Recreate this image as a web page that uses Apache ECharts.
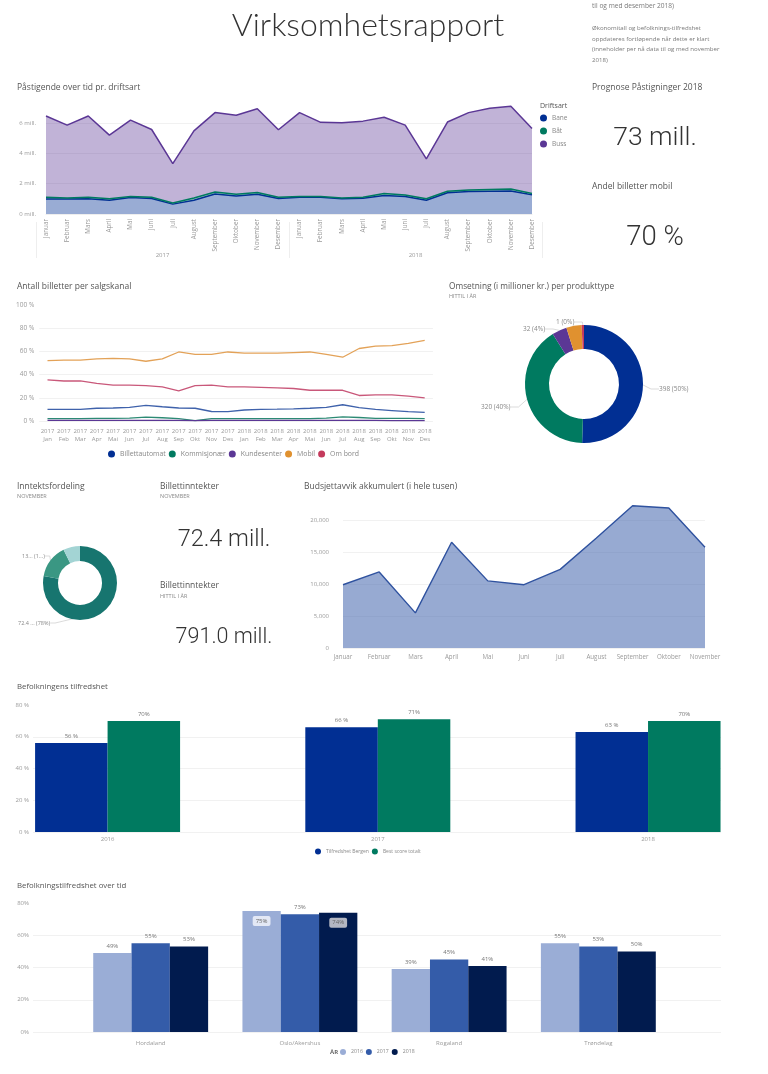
<!DOCTYPE html>
<html><head><meta charset="utf-8">
<style>html,body{margin:0;padding:0;background:#fff}#c{width:768px;height:1074px}</style>
<script src="https://cdn.jsdelivr.net/npm/echarts@6/dist/echarts.min.js"></script>
</head><body><div id="c"></div>
<script>
const monthsFull=['Januar','Februar','Mars','April','Mai','Juni','Juli','August','September','Oktober','November','Desember'];
const months24=[...monthsFull,...monthsFull];
const yearsRide=['2017','2018'];
const bane=[0.98,0.98,1.0,0.9,1.08,1.02,0.65,0.9,1.32,1.18,1.3,1.02,1.1,1.1,1.0,1.03,1.22,1.15,0.9,1.4,1.48,1.5,1.52,1.27];
const baat=[0.12,0.07,0.1,0.1,0.07,0.08,0.07,0.15,0.13,0.12,0.12,0.08,0.05,0.05,0.05,0.07,0.13,0.1,0.1,0.1,0.1,0.12,0.13,0.08];
const buss=[5.35,4.8,5.35,4.19,5.03,4.46,2.59,4.42,5.22,5.2,5.51,4.44,5.52,4.88,4.95,5.01,5.01,4.6,2.62,4.55,5.09,5.33,5.44,4.28];

const channelCats=['2017\nJan','2017\nFeb','2017\nMar','2017\nApr','2017\nMai','2017\nJun','2017\nJul','2017\nAug','2017\nSep','2017\nOkt','2017\nNov','2017\nDes','2018\nJan','2018\nFeb','2018\nMar','2018\nApr','2018\nMai','2018\nJun','2018\nJul','2018\nAug','2018\nSep','2018\nOkt','2018\nNov','2018\nDes'];
const billettautomat=[10,10,10,11,11.2,11.8,13.5,12.3,11.2,11,8.2,8,9.5,10,10.2,10.5,11,11.8,14,11.5,10,9,8,7.5];
const kommisjonaer=[2,2,2,2.2,2.2,2.5,3.3,2.8,2,0.3,2,2,2,2,2,2,2,2.5,3.5,3,2.3,2.2,2.2,2];
const kundesenter=[0.5,0.5,0.5,0.5,0.5,0.5,0.5,0.5,0.5,0.3,0.5,0.5,0.5,0.5,0.5,0.5,0.5,0.5,0.5,0.5,0.5,0.3,0.3,0.3];
const mobil=[52,52.5,52.5,53.5,54,53.5,51.5,53.5,59.5,57.5,57.5,59.5,58.5,58.5,58.5,59,59.5,57.5,55,62.5,64.5,65,67,69.5];
const omBord=[35.5,34.5,34.5,32.5,31,31,30.5,29.5,26,30.5,31,29.5,29.5,29,28.5,28,26.5,26.5,26.5,22,22.5,22.5,21.5,20];

const productValues=[398,320,32,33,5];
const productNames=['Produkt A','Produkt B','Produkt C','Produkt D','Produkt E'];
const productLabels=['398 (50%)','320 (40%)','32 (4%)','','1 (0%)'];

const incomeValues=[72.4,13.6,6.8];
const incomeLabels=['72.4 ... (78%)','13... (1...)',''];

const budgetMonths=monthsFull.slice(0,11);
const budgetValues=[9900,11900,5500,16550,10500,9900,12300,17200,22250,21900,15750];

const satisYears=[2016,2017,2018];
const satisBergen=[56,66,63];
const satisBest=[70,71,70];

const regions=['Hordaland','Oslo/Akershus','Rogaland','Trøndelag'];
const regionPos=[1,2,3,4];
const reg2016=[49,75,39,55];
const reg2017=[55,73,45,53];
const reg2018=[53,74,41,50];

const FONT='"Open Sans","Noto Sans",sans-serif';
const AX='#9a9a9a', GRID='#f1f1f1', HEAD='#555555', SUB='#8a8a8a';
const BLUE='#012f93', GREEN='#007a60', PURPLE='#5b3795', ORANGE='#e0912f', RED='#c43a5c';

function txt(text,x,y,size,fill,extra){
  return {type:'text',x:x,y:y,silent:true,style:Object.assign({text:text,fontSize:size,fontFamily:FONT,fill:fill,align:'left',verticalAlign:'middle'},extra||{})};
}
const KPI={align:'center',fontWeight:300,fontFamily:'Roboto,"Open Sans",sans-serif'};
const graphics=[
  txt('Virksomhetsrapport',368,26,32,'#333333',{align:'center',fontWeight:300,fontFamily:'Lato,Roboto,sans-serif'}),
  txt('til og med desember 2018)',592,6,6.6,'#7a7a7a'),
  txt('Økonomitall og befolknings-tilfredshet',592,28,6.1,'#7a7a7a'),
  txt('oppdateres fortløpende når dette er klart',592,39,6.1,'#7a7a7a'),
  txt('(inneholder per nå data til og med november',592,49,6.1,'#7a7a7a'),
  txt('2018)',592,60,6.1,'#7a7a7a'),
  txt('Påstigende over tid pr. driftsart',17,88,8.5,HEAD),
  txt('Driftsart',540,106,7,HEAD),
  txt('Prognose Påstigninger 2018',592,88,8.5,HEAD),
  txt('73 mill.',655,138,26.5,'#333333',KPI),
  txt('Andel billetter mobil',592,187,8.5,HEAD),
  txt('70 %',655,238,27.5,'#333333',KPI),
  txt('Antall billetter per salgskanal',17,287,8.5,HEAD),
  txt('Omsetning (i millioner kr.) per produkttype',449,287,8.3,HEAD),
  txt('HITTIL I ÅR',449,296,5.5,SUB),
  txt('Inntektsfordeling',17,487,8.5,HEAD),
  txt('NOVEMBER',17,496,5.5,SUB),
  txt('Billettinntekter',160,487,8.5,HEAD),
  txt('NOVEMBER',160,496,5.5,SUB),
  txt('72.4 mill.',224,540,23.5,'#333333',KPI),
  txt('Billettinntekter',160,586,8.5,HEAD),
  txt('HITTIL I ÅR',160,596,5.5,SUB),
  txt('791.0 mill.',224,638,21.5,'#333333',KPI),
  txt('Budsjettavvik akkumulert (i hele tusen)',304,487,8.5,HEAD),
  txt('Befolkningens tilfredshet',17,687,7.8,HEAD),
  txt('Befolkningstilfredshet over tid',17,886,7.8,HEAD),
  txt('ÅR',330,1052,6,'#666666',{fontWeight:'bold'})
];

const axisLbl=(o)=>Object.assign({color:AX,fontSize:6.5,fontFamily:FONT},o||{});
const split={show:true,lineStyle:{color:GRID,width:1},showMaxLine:false};
const legendBase={icon:'circle',itemWidth:7,itemHeight:7,padding:0,textStyle:{color:'#888',fontSize:7,fontFamily:FONT},selectedMode:false};

function areaS(name,data,color,fillOp){
  return {name,type:'line',stack:'ride',data,xAxisIndex:0,yAxisIndex:0,symbol:'none',smooth:false,
    lineStyle:{color,width:1.5},itemStyle:{color},areaStyle:{color,opacity:fillOp}};
}
function lineS(name,data,lineColor,dotColor){
  return {name,type:'line',data,xAxisIndex:2,yAxisIndex:2,symbol:'none',smooth:false,lineStyle:{color:lineColor,width:1.3},itemStyle:{color:dotColor}};
}
const pairs=(xs,ys)=>xs.map((x,i)=>[x,ys[i]]);
function satisS(name,vals,color,fmt){
  return {name,type:'bar',xAxisIndex:4,yAxisIndex:4,barWidth:72.5,barGap:0,data:pairs(satisYears,vals),itemStyle:{color},
    label:{show:true,position:'top',distance:4,fontSize:6,color:'#777',fontFamily:FONT,formatter:p=>p.value[1]+fmt}};
}
function regS(name,vals,color,insideBg){
  return {name,type:'bar',xAxisIndex:5,yAxisIndex:5,barWidth:38.3,barGap:0,itemStyle:{color},
    data:vals.map((v,i)=>{
      const d={value:[regionPos[i],v]};
      if(insideBg&&i===1){d.label={position:'insideTop',distance:5,backgroundColor:insideBg,color:'#666',padding:[2,3],borderRadius:2};}
      return d;
    }),
    label:{show:true,position:'top',distance:4,fontSize:6,color:'#777',fontFamily:FONT,formatter:p=>p.value[1]+'%'}};
}
function pieData(values,names,labels){
  return values.map((v,i)=>{
    const d={value:v,name:names[i]};
    if(!labels[i]){d.label={show:false};d.labelLine={show:false};}
    return d;
  });
}

const option={
  animation:false,backgroundColor:'#ffffff',textStyle:{fontFamily:FONT},
  graphic:graphics,
  legend:[
    Object.assign({},legendBase,{orient:'vertical',left:540,top:114.5,itemGap:6,data:['Bane','Båt','Buss'],textStyle:{color:'#888',fontSize:6.5,fontFamily:FONT}}),
    Object.assign({},legendBase,{left:108,top:450.5,itemGap:3,data:['Billettautomat','Kommisjonær','Kundesenter','Mobil','Om bord'],textStyle:{color:'#888',fontSize:6.9,fontFamily:FONT}}),
    Object.assign({},legendBase,{left:315,top:848.5,itemGap:3,itemWidth:6,itemHeight:6,data:['Tilfredshet Bergen','Best score totalt'],textStyle:{color:'#888',fontSize:5,fontFamily:FONT}}),
    Object.assign({},legendBase,{left:340,top:1049,itemGap:3,itemWidth:6,itemHeight:6,data:['2016','2017','2018'],textStyle:{color:'#888',fontSize:5.2,fontFamily:FONT}})
  ],
  grid:[
    {left:46,right:236,top:100,height:114},
    {left:36,right:226,top:222,height:36},
    {left:39.3,width:393.6,top:305,height:116},
    {left:343,right:63,top:501,height:147},
    {left:33,right:47,top:705,height:127},
    {left:33,right:47,top:903,height:129}
  ],
  xAxis:[
    {type:'category',gridIndex:0,data:months24,boundaryGap:false,axisLine:{lineStyle:{color:'#eeeeee'}},axisTick:{show:false},
      axisLabel:axisLbl({rotate:90,interval:0,fontSize:6.3,margin:5})},
    {type:'category',gridIndex:1,position:'top',data:yearsRide,axisLine:{show:false,onZero:false},
      axisTick:{show:true,inside:true,length:36,lineStyle:{color:'#eeeeee'}},
      axisLabel:axisLbl({inside:true,margin:30,fontSize:6})},
    {type:'category',gridIndex:2,data:channelCats,axisLine:{show:false},axisTick:{show:false},
      axisLabel:axisLbl({interval:0,fontSize:6,margin:6,lineHeight:8,hideOverlap:false})},
    {type:'category',gridIndex:3,data:budgetMonths,boundaryGap:false,axisLine:{show:false},axisTick:{show:false},
      axisLabel:axisLbl({interval:0,margin:6,fontSize:6.2})},
    {type:'value',gridIndex:4,min:2015.724,max:2018.27,splitLine:{show:false},axisLine:{show:false},axisTick:{show:false},
      axisLabel:axisLbl({customValues:satisYears,formatter:v=>String(v),margin:4,fontSize:6})},
    {type:'value',gridIndex:5,min:0.2114,max:4.822,splitLine:{show:false},axisLine:{show:false},axisTick:{show:false},
      axisLabel:axisLbl({customValues:regionPos,formatter:v=>regions[v-1],margin:8,fontSize:6})}
  ],
  yAxis:[
    {type:'value',gridIndex:0,min:0,max:7.5,interval:2,splitLine:split,axisLine:{show:false},axisTick:{show:false},
      axisLabel:axisLbl({formatter:v=>v+' mill.',showMaxLabel:false,margin:10,fontSize:6})},
    {type:'value',gridIndex:1,show:false},
    {type:'value',gridIndex:2,min:0,max:100,interval:20,splitLine:split,axisLine:{show:false},axisTick:{show:false},
      axisLabel:axisLbl({formatter:v=>v+' %',margin:5,fontSize:6.5})},
    {type:'value',gridIndex:3,min:0,max:23000,interval:5000,splitLine:split,axisLine:{show:false},axisTick:{show:false},
      axisLabel:axisLbl({formatter:v=>v===0?'0':(v/1000)+',000',showMaxLabel:false,margin:14,fontSize:6})},
    {type:'value',gridIndex:4,min:0,max:80,interval:20,splitLine:split,axisLine:{show:false},axisTick:{show:false},
      axisLabel:axisLbl({formatter:v=>v+' %',margin:4,fontSize:6})},
    {type:'value',gridIndex:5,min:0,max:80,interval:20,splitLine:split,axisLine:{show:false},axisTick:{show:false},
      axisLabel:axisLbl({formatter:v=>v+'%',margin:4,fontSize:6})}
  ],
  series:[
    areaS('Bane',bane,BLUE,0.4),
    areaS('Båt',baat,GREEN,0.4),
    areaS('Buss',buss,PURPLE,0.38),
    lineS('Billettautomat',billettautomat,'#3f62ab',BLUE),
    lineS('Kommisjonær',kommisjonaer,'#2c8a74',GREEN),
    lineS('Kundesenter',kundesenter,PURPLE,PURPLE),
    lineS('Mobil',mobil,'#e3a258',ORANGE),
    lineS('Om bord',omBord,'#c9587a',RED),
    {name:'Budsjettavvik',type:'line',xAxisIndex:3,yAxisIndex:3,data:budgetValues,symbol:'none',lineStyle:{color:'#2f529f',width:1.4},itemStyle:{color:'#2f529f'},areaStyle:{color:'#3f62ab',opacity:0.54}},
    satisS('Tilfredshet Bergen',satisBergen,BLUE,' %'),
    satisS('Best score totalt',satisBest,GREEN,'%'),
    regS('2016',reg2016,'#9aadd6','rgba(235,238,248,0.9)'),
    regS('2017',reg2017,'#345ca9',null),
    regS('2018',reg2018,'#011b4e','rgba(190,192,200,0.95)'),
    {name:'Omsetning',type:'pie',center:[584,384],radius:[35,59],startAngle:90,clockwise:true,avoidLabelOverlap:false,
      data:pieData(productValues,productNames,productLabels),
      color:[BLUE,GREEN,PURPLE,ORANGE,RED],
      label:{show:true,fontSize:6.5,color:'#888',fontFamily:FONT,formatter:p=>productLabels[p.dataIndex]},
      labelLine:{show:true,length:8,length2:8,lineStyle:{color:'#cccccc',width:0.7}},
      labelLayout:p=>{
        const spots=[{x:659,y:389},{x:481,y:407},{x:523,y:329},null,{x:556,y:322}];
        const s=spots[p.dataIndex];
        return s?{x:s.x,y:s.y,align:'left',verticalAlign:'middle'}:{};
      }},
    {name:'Inntektsfordeling',type:'pie',center:[80,583],radius:[22,37],startAngle:90,clockwise:true,avoidLabelOverlap:false,
      data:pieData(incomeValues,['Inntekt 1','Inntekt 2','Inntekt 3'],incomeLabels),
      color:['#17756f','#3a9783','#a3d4d4'],
      label:{show:true,fontSize:5.5,color:'#888',fontFamily:FONT,formatter:p=>incomeLabels[p.dataIndex]},
      labelLine:{show:true,length:6,length2:5,lineStyle:{color:'#cccccc',width:0.7}},
      labelLayout:p=>{
        const spots=[{x:18,y:623},{x:22,y:556},null];
        const s=spots[p.dataIndex];
        return s?{x:s.x,y:s.y,align:'left',verticalAlign:'middle'}:{};
      }}
  ]
};
const chart=echarts.init(document.getElementById('c'),null,{renderer:'canvas',width:768,height:1074});
chart.setOption(option);
</script></body></html>
